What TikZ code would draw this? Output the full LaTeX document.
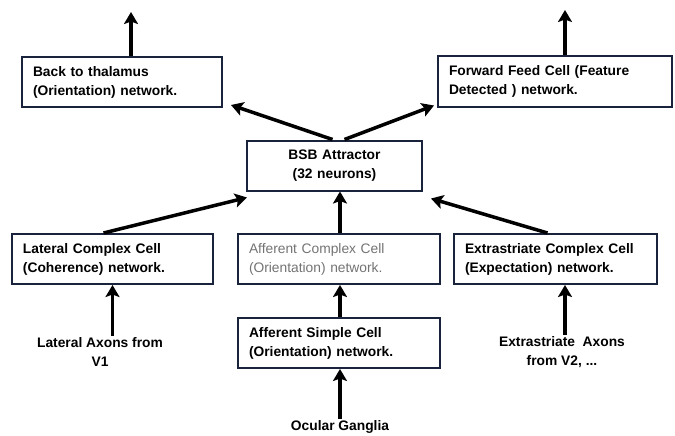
\documentclass[tikz,border=0pt]{standalone}
\usepackage{fontspec}
\setmainfont{Liberation Sans}
\usetikzlibrary{arrows.meta}
\definecolor{boxline}{RGB}{25,35,60}
\tikzset{
     cell/.style={draw=boxline, line width=2pt, rectangle, minimum height=\uh,
        text width=#1, align=left, inner xsep=11pt, font=\bfseries\fontsize{13.8}{19}\selectfont},
     cellc/.style={cell=#1, align=center},
     cellg/.style={cell=#1, text=black!55, font=\mdseries\fontsize{13.8}{19}\selectfont},
     input/.style={align=center, font=\bfseries\fontsize{13.8}{19}\selectfont},
     link/.style={->, line width=3.5pt},
}
\tikzset{>={Stealth[length=12pt,width=14pt,inset=2.5pt]}}
\def\uh{50pt}

\begin{document}
\begin{tikzpicture}[x=1pt,y=-1pt]
     \useasboundingbox (0,0) rectangle (675,436);

     % top row
     \node[cell=178pt] (back) at (122,82) {Back to thalamus\\(Orientation) network.};
     \node[cell=212pt] (fwd) at (555,81.5) {Forward Feed Cell (Feature\\Detected ) network.};
     \coordinate (backout) at (131,12);
     \coordinate (fwdout) at (565,10);

     % attractor
     \node[cellc=153pt] (bsb) at (334.5,165.5) {BSB Attractor\\(32 neurons)};

     % complex cells
     \node[cell=179pt] (lat) at (112.5,259) {Lateral Complex Cell\\(Coherence) network.};
     \node[cellg=180pt] (aff) at (339,259) {Afferent Complex Cell\\(Orientation) network.};
     \node[cell=181pt] (ext) at (555.5,259) {Extrastriate Complex Cell\\(Expectation) network.};

     % simple cell and inputs
     \node[cell=180pt] (simp) at (339,343) {Afferent Simple Cell\\(Orientation) network.};
     \node[input] (latax) at (100,352) {Lateral Axons from\\V1};
     \node[input] (extax) at (562,352) {Extrastriate\ \ Axons\\from V2, ...};
     \node[input] (ocular) at (340,427) {Ocular Ganglia};

     % vertical links
     \draw[link] (back.north -| backout) -- (backout);
     \draw[link] (fwd.north -| fwdout) -- (fwdout);
     \draw[link] (aff.north -| 340,0) -- (bsb.south -| 340,0);
     \draw[link] (simp.north -| 340,0) -- (aff.south -| 340,0);
     \draw[link] ([yshift=-2pt]ocular.north -| 340,0) -- (simp.south -| 340,0);
     \draw[link] ([yshift=-2pt]latax.north -| lat.south) -- (lat.south);
     \draw[link] ([yshift=-2pt]extax.north -| 565,0) -- (ext.south -| 565,0);

     % diagonal links
     \draw[link] ([xshift=-9pt]lat.north) -- ([shift={(1pt,-6pt)}]bsb.south west);
     \draw[link] ([xshift=-8pt]ext.north) -- ([shift={(8pt,-7pt)}]bsb.south east);
     \draw[link] ([xshift=-2pt]bsb.north) -- ([shift={(8pt,3pt)}]back.south east);
     \draw[link] ([xshift=10pt]bsb.north) -- ([shift={(-3pt,2pt)}]fwd.south west);

\end{tikzpicture}
\end{document}
